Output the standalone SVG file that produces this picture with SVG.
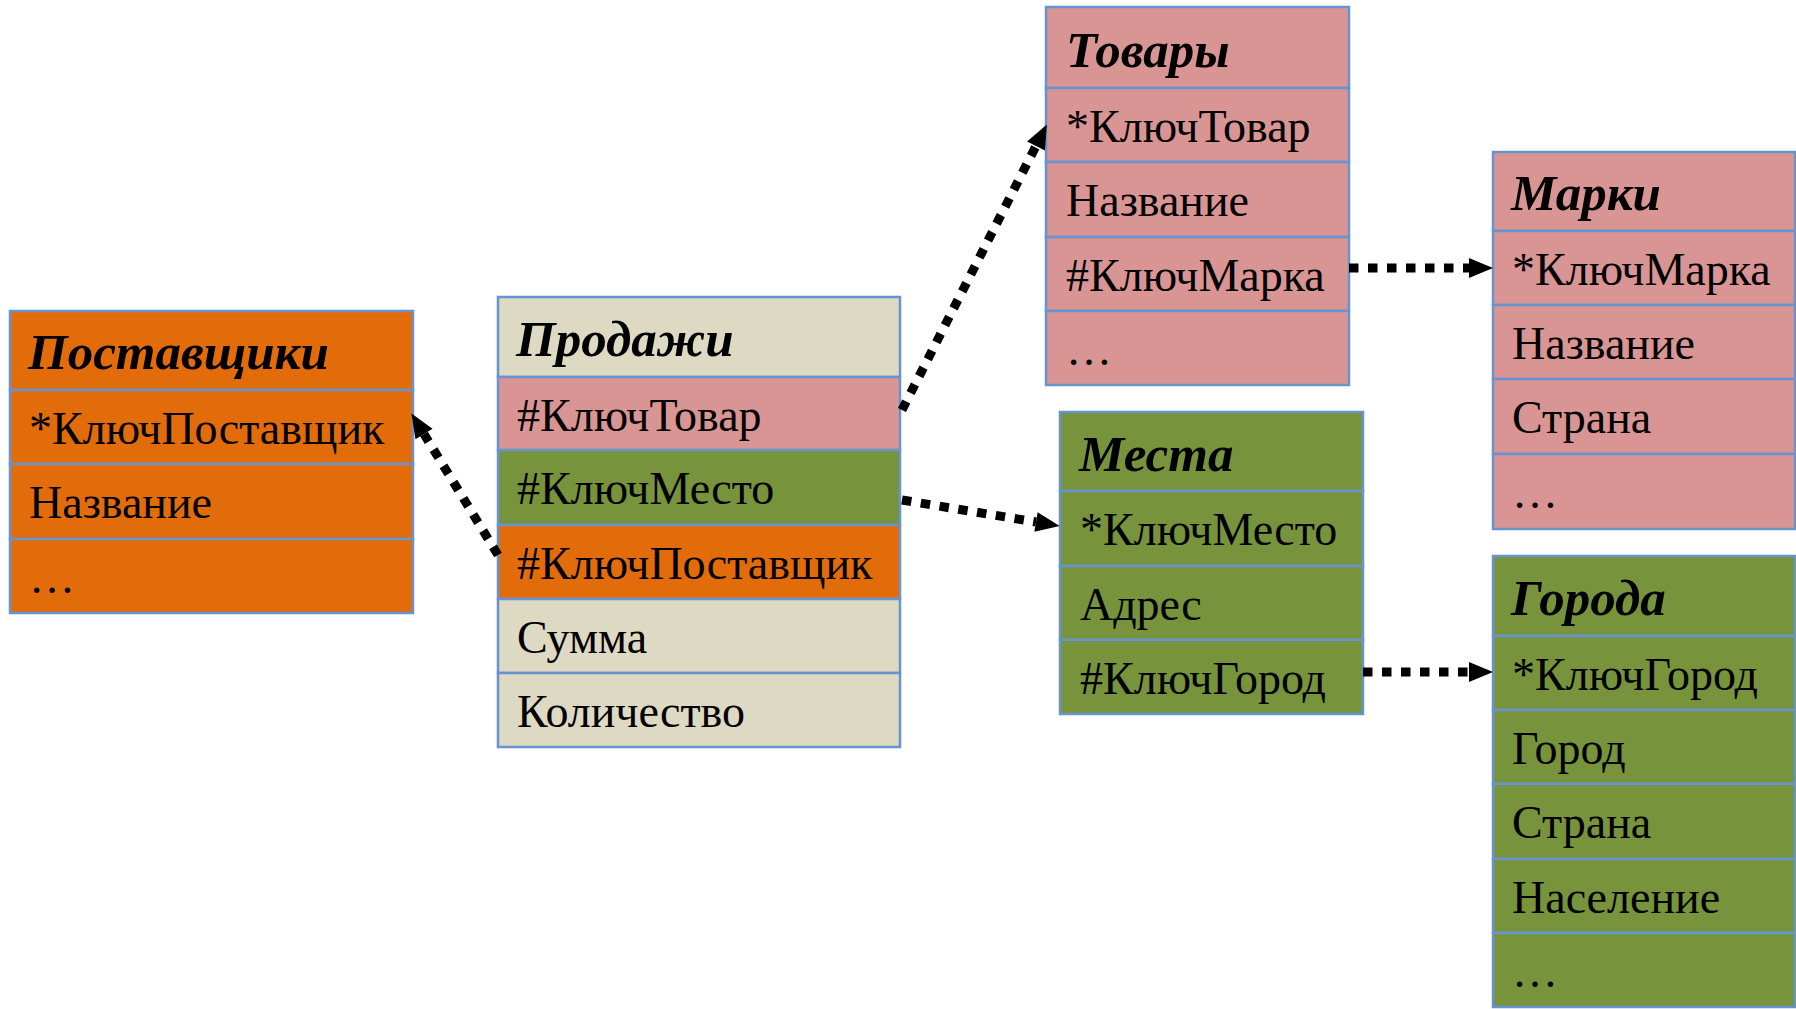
<svg xmlns="http://www.w3.org/2000/svg" width="1796" height="1009" viewBox="0 0 1796 1009">
  <style>
    .cell { stroke: #6794cf; stroke-width: 2.5; }
    .orange { fill: #e36c0a; }
    .pink { fill: #d99594; }
    .green { fill: #77933c; }
    .beige { fill: #ddd9c3; }
    .title { font-family: "Liberation Serif", "Times New Roman", serif; font-size: 51px; font-weight: bold; font-style: italic; fill: #000; }
    .field { font-family: "Liberation Serif", "Times New Roman", serif; font-size: 46px; fill: #000; }
    .link { fill: none; stroke: #000; stroke-width: 9; stroke-dasharray: 9.5 9.5; }
  </style>
  <defs>
    <marker id="head" markerUnits="userSpaceOnUse" markerWidth="26" markerHeight="22" refX="0" refY="10" orient="auto" overflow="visible">
      <path d="M0,0 L24,10 L0,20 Z" fill="#000"/>
    </marker>
  </defs>
  <rect width="1796" height="1009" fill="#fff"/>

  <!-- Поставщики -->
  <g id="suppliers">
    <rect class="cell orange" x="10" y="311" width="403" height="79"/>
    <rect class="cell orange" x="10" y="390" width="403" height="74"/>
    <rect class="cell orange" x="10" y="464" width="403" height="75"/>
    <rect class="cell orange" x="10" y="539" width="403" height="74"/>
    <text class="title" x="28" y="369">Поставщики</text>
    <text class="field" x="29" y="444">*КлючПоставщик</text>
    <text class="field" x="29" y="518">Название</text>
    <text class="field" x="29" y="593">…</text>
  </g>

  <!-- Продажи -->
  <g id="sales">
    <rect class="cell beige" x="498" y="297" width="402" height="80"/>
    <rect class="cell pink" x="498" y="377" width="402" height="73"/>
    <rect class="cell green" x="498" y="450" width="402" height="75"/>
    <rect class="cell orange" x="498" y="525" width="402" height="74"/>
    <rect class="cell beige" x="498" y="599" width="402" height="74"/>
    <rect class="cell beige" x="498" y="673" width="402" height="74"/>
    <text class="title" x="516" y="356">Продажи</text>
    <text class="field" x="517" y="431">#КлючТовар</text>
    <text class="field" x="517" y="504">#КлючМесто</text>
    <text class="field" x="517" y="579">#КлючПоставщик</text>
    <text class="field" x="517" y="653">Сумма</text>
    <text class="field" x="517" y="727">Количество</text>
  </g>

  <!-- Товары -->
  <g id="goods">
    <rect class="cell pink" x="1046" y="7" width="303" height="81"/>
    <rect class="cell pink" x="1046" y="88" width="303" height="74"/>
    <rect class="cell pink" x="1046" y="162" width="303" height="75"/>
    <rect class="cell pink" x="1046" y="237" width="303" height="74"/>
    <rect class="cell pink" x="1046" y="311" width="303" height="74"/>
    <text class="title" x="1066" y="67">Товары</text>
    <text class="field" x="1066" y="142">*КлючТовар</text>
    <text class="field" x="1066" y="216">Название</text>
    <text class="field" x="1066" y="291">#КлючМарка</text>
    <text class="field" x="1066" y="365">…</text>
  </g>

  <!-- Марки -->
  <g id="brands">
    <rect class="cell pink" x="1493" y="152" width="302" height="79"/>
    <rect class="cell pink" x="1493" y="231" width="302" height="74"/>
    <rect class="cell pink" x="1493" y="305" width="302" height="74"/>
    <rect class="cell pink" x="1493" y="379" width="302" height="75"/>
    <rect class="cell pink" x="1493" y="454" width="302" height="75"/>
    <text class="title" x="1511" y="210">Марки</text>
    <text class="field" x="1512" y="285">*КлючМарка</text>
    <text class="field" x="1512" y="359">Название</text>
    <text class="field" x="1512" y="433">Страна</text>
    <text class="field" x="1512" y="508">…</text>
  </g>

  <!-- Места -->
  <g id="places">
    <rect class="cell green" x="1060" y="412" width="303" height="79"/>
    <rect class="cell green" x="1060" y="491" width="303" height="75"/>
    <rect class="cell green" x="1060" y="566" width="303" height="74"/>
    <rect class="cell green" x="1060" y="640" width="303" height="74"/>
    <text class="title" x="1079" y="471">Места</text>
    <text class="field" x="1080" y="545">*КлючМесто</text>
    <text class="field" x="1080" y="620">Адрес</text>
    <text class="field" x="1080" y="694">#КлючГород</text>
  </g>

  <!-- Города -->
  <g id="cities">
    <rect class="cell green" x="1493" y="556" width="302" height="80"/>
    <rect class="cell green" x="1493" y="636" width="302" height="74"/>
    <rect class="cell green" x="1493" y="710" width="302" height="74"/>
    <rect class="cell green" x="1493" y="784" width="302" height="75"/>
    <rect class="cell green" x="1493" y="859" width="302" height="74"/>
    <rect class="cell green" x="1493" y="933" width="302" height="74"/>
    <text class="title" x="1511" y="615">Города</text>
    <text class="field" x="1512" y="690">*КлючГород</text>
    <text class="field" x="1512" y="764">Город</text>
    <text class="field" x="1512" y="838">Страна</text>
    <text class="field" x="1512" y="913">Население</text>
    <text class="field" x="1512" y="987">…</text>
  </g>

  <!-- foreign key links -->
  <g id="links">
    <path class="link" d="M902,410 L1036,146" marker-end="url(#head)"/>
    <path class="link" d="M902,500 L1036,522" marker-end="url(#head)"/>
    <path class="link" d="M498,555 L424,434" marker-end="url(#head)"/>
    <path class="link" d="M1349,268 L1469,268" marker-end="url(#head)"/>
    <path class="link" d="M1363,672 L1469,672" marker-end="url(#head)"/>
  </g>
</svg>
